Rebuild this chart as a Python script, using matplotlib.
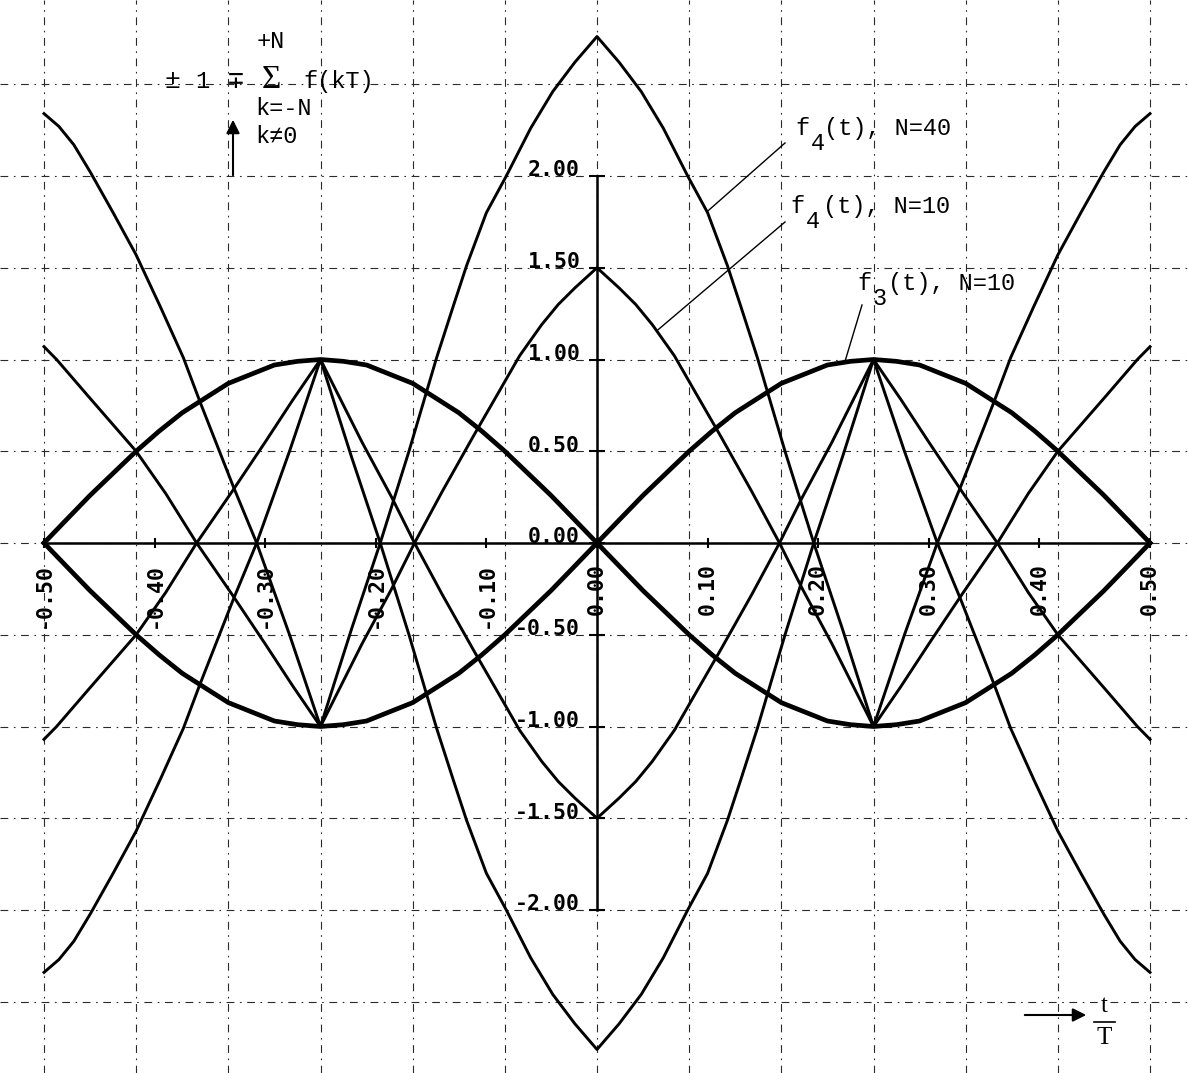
import numpy as np
import matplotlib.pyplot as plt

# upper branch (+1 - sum) on the left half, t/T from -0.5 to 0
t_f3 = [-0.5, -0.4792, -0.4583, -0.4375, -0.4167, -0.3958, -0.375, -0.3542, -0.3333,
        -0.3125, -0.2917, -0.2708, -0.25, -0.2292, -0.2083, -0.1875, -0.1667, -0.1458,
        -0.125, -0.1042, -0.0833, -0.0625, -0.0417, -0.0208, 0.0]
y_f3 = [0.0, 0.13, 0.26, 0.38, 0.50, 0.61, 0.71, 0.79, 0.87, 0.92, 0.97, 0.99, 1.0,
        0.99, 0.97, 0.92, 0.87, 0.79, 0.71, 0.61, 0.50, 0.38, 0.26, 0.13, 0.0]

t_f4_10 = [-0.5, -0.4886, -0.46, -0.4167, -0.39, -0.362, -0.33, -0.30, -0.275, -0.25,
           -0.2125, -0.1857, -0.165, -0.14, -0.112, -0.09, -0.07, -0.05, -0.035, -0.02, 0.0]
y_f4_10 = [1.07, 1.00, 0.80, 0.50, 0.27, 0.00, -0.28, -0.55, -0.78, -1.00,
           -0.55, -0.25, 0.00, 0.28, 0.58, 0.81, 1.02, 1.19, 1.30, 1.39, 1.50]

t_f4_40 = [-0.5, -0.4865, -0.473, -0.458, -0.4375, -0.4167, -0.395, -0.374, -0.359,
           -0.329, -0.3077, -0.278, -0.25, -0.222, -0.196, -0.17, -0.145, -0.13,
           -0.118, -0.10, -0.082, -0.06, -0.04, -0.02, 0.0]
y_f4_40 = [2.34, 2.27, 2.17, 2.02, 1.80, 1.57, 1.29, 1.01, 0.77,
           0.31, 0.00, -0.50, -1.00, -0.47, 0.00, 0.50, 1.01, 1.29,
           1.51, 1.80, 2.00, 2.26, 2.46, 2.62, 2.76]

x_ticks = [-0.5, -0.4, -0.3, -0.2, -0.1, 0.0, 0.1, 0.2, 0.3, 0.4, 0.5]
x_labels = ['-0.50', '-0.40', '-0.30', '-0.20', '-0.10', '0.00',
            '0.10', '0.20', '0.30', '0.40', '0.50']
y_ticks = [2.0, 1.5, 1.0, 0.5, 0.0, -0.5, -1.0, -1.5, -2.0]
y_labels = ['2.00', '1.50', '1.00', '0.50', '0.00', '-0.50', '-1.00', '-1.50', '-2.00']


def full(t, y):
    # curves are even in t: mirror the left half onto the right
    t = np.asarray(t)
    y = np.asarray(y)
    return np.concatenate([t, -t[-2::-1]]), np.concatenate([y, y[-2::-1]])


def px(x, y):
    return (x - 597) / 1106, (543 - y) / 183.5


fig = plt.figure(figsize=(11.88, 10.73), dpi=100)
ax = fig.add_axes([0, 0, 1, 1])
ax.set_xlim(-597 / 1106, (1188 - 597) / 1106)
ax.set_ylim(-(1073 - 543) / 183.5, 543 / 183.5)
ax.axis('off')

# paper grid
grid = dict(color='#2a2a2a', lw=0.8, ls=(0, (7, 5, 1.5, 5)), zorder=0)
for k in range(-6, 7):
    ax.axvline(k / 12, **grid)
for g in np.arange(-2.5, 3.0, 0.5):
    ax.axhline(g, **grid)

# axes
ax.plot([-0.5, 0.5], [0, 0], color='black', lw=1.8, zorder=2)
ax.plot([0, 0], [-2, 2], color='black', lw=1.8, zorder=2)
ax.plot(x_ticks, [0] * len(x_ticks), ls='none', marker='|', ms=7, mew=1.5, color='black')
ax.plot([0] * len(y_ticks), y_ticks, ls='none', marker='_', ms=12, mew=1.5, color='black')

mono_b = dict(family='DejaVu Sans Mono', fontweight='bold', fontsize=15.5, color='black')
for v, s in zip(y_ticks, y_labels):
    ax.text(-0.0155, v + 0.03, s, ha='right', va='center', **mono_b)
for v, s in zip(x_ticks, x_labels):
    ax.text(v, -0.11, s, rotation=90, ha='center', va='top', **mono_b)

# curves
curves = {}
for name, t, y, lw in [('f3', t_f3, y_f3, 3.4),
                       ('f4_10', t_f4_10, y_f4_10, 2.1),
                       ('f4_40', t_f4_40, y_f4_40, 2.1)]:
    T, Y = full(t, y)
    curves[name] = (T, Y)
    ax.plot(T, Y, color='black', lw=lw, solid_joinstyle='round', zorder=3)
    ax.plot(T, -Y, color='black', lw=lw, solid_joinstyle='round', zorder=3)

# curve labels with leader lines
mono = ['Liberation Mono', 'DejaVu Sans Mono']
fs = 17
labels = [('f4_40', '4', '(t), N=40', 795, 135, 824, (785, 143), 0.0995),
          ('f4_10', '4', '(t), N=10', 790, 213, 823, (785, 222), 0.054),
          ('f3', '3', '(t), N=10', 857, 290, 888, (862, 305), 0.224)]
for name, sub, rest, fx, base, rx, start, t_end in labels:
    ax.text(*px(fx, base), 'f', family=mono, fontsize=fs, va='baseline')
    ax.text(*px(fx + 16, base + 15), sub, family=mono, fontsize=fs, va='baseline')
    ax.text(*px(rx, base), rest, family=mono, fontsize=fs, va='baseline')
    T, Y = curves[name]
    x0, y0 = px(*start)
    ax.plot([x0, t_end], [y0, np.interp(t_end, T, Y)], color='black', lw=1.0, zorder=3)

# ordinate caption
ax.text(*px(271, 48), '+N', family=mono, fontsize=fs, ha='center', va='baseline')
ax.text(*px(172, 88), '\u00b1', family=mono, fontsize=19, ha='center', va='baseline')
ax.text(*px(202, 88), '1', family=mono, fontsize=fs, ha='center', va='baseline')
ax.text(*px(236, 88), '\u2213', family=mono, fontsize=19, ha='center', va='baseline')
ax.text(*px(271, 88), '\u03a3', family=['Liberation Serif'], fontsize=24, ha='center', va='baseline')
ax.text(*px(303, 88), 'f(kT)', family=mono, fontsize=fs, va='baseline')
ax.text(*px(255, 115), 'k=-N', family=mono, fontsize=fs, va='baseline')
ax.text(*px(255, 143), 'k\u22600', family=mono, fontsize=fs, va='baseline')
ax.annotate('', xy=px(233, 117), xytext=px(233, 178),
            arrowprops=dict(arrowstyle='-|>', lw=1.5, color='black', mutation_scale=20))

# abscissa caption
ax.annotate('', xy=px(1089, 1015), xytext=px(1022, 1015),
            arrowprops=dict(arrowstyle='-|>', lw=1.5, color='black', mutation_scale=20))
ax.text(*px(1104, 1006), 't', family=['Liberation Serif'], fontsize=18, ha='center', va='center')
ax.plot(*zip(px(1094, 1022), px(1115, 1022)), color='black', lw=1.2)
ax.text(*px(1104, 1038), 'T', family=['Liberation Serif'], fontsize=18, ha='center', va='center')

fig.savefig('out.png', dpi=100, facecolor='white')
